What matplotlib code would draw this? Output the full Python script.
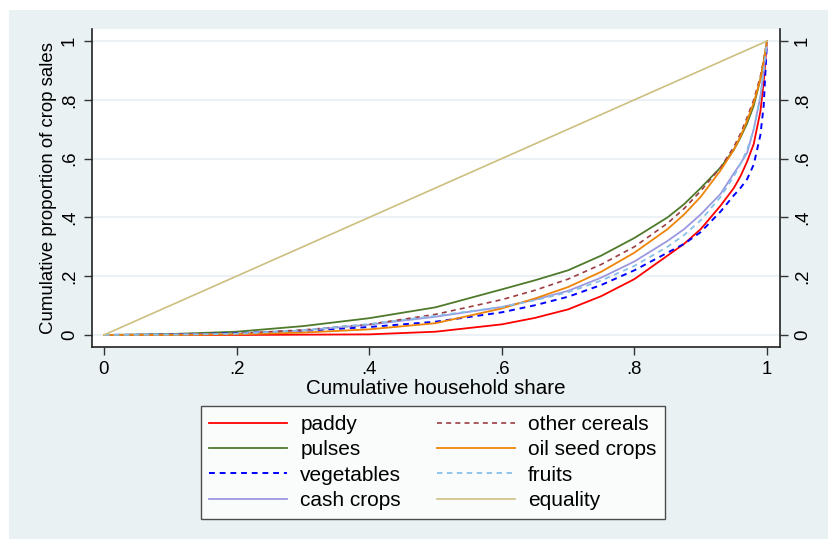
import matplotlib
matplotlib.use("Agg")
import matplotlib.pyplot as plt
from matplotlib.patches import Rectangle

plt.rcParams['font.family'] = ['Liberation Sans', 'DejaVu Sans']

# Lorenz curves of crop sales by crop group
share = [0, .1, .2, .3, .4, .5, .6, .65, .7, .75, .8, .85, .875, .9, .93, .95, .96, .97, .98, .99, .995, 1]

paddy = [0, 0, 0, .001, .002, .011, .036, .058, .087, .132, .19, .27, .31, .36, .44, .50, .54, .59, .65, .76, .86, 1]
pulses = [0, .003, .011, .03, .057, .094, .155, .186, .22, .27, .33, .40, .445, .50, .57, .63, .672, .72, .78, .87, .93, 1]
vegetables = [0, .001, .006, .014, .027, .045, .077, .101, .13, .17, .22, .28, .31, .35, .42, .475, .50, .53, .58, .68, .78, 1]
cash_crops = [0, .001, .004, .015, .035, .062, .095, .12, .15, .195, .25, .32, .36, .41, .48, .55, .583, .62, .70, .81, .90, 1]
other_cereals = [0, .001, .005, .017, .036, .07, .12, .152, .19, .24, .30, .38, .43, .49, .57, .64, .685, .74, .80, .88, .935, 1]
oil_seed = [0, 0, .002, .008, .019, .04, .09, .124, .163, .215, .28, .36, .41, .47, .56, .63, .675, .73, .79, .87, .93, 1]
fruits = [0, .001, .004, .016, .037, .065, .095, .118, .145, .185, .235, .30, .34, .39, .47, .54, .582, .63, .70, .81, .90, 1]
equality = [0, 1]

ticks = [0, .2, .4, .6, .8, 1]
tick_labels = ['0', '.2', '.4', '.6', '.8', '1']

fig = plt.figure(figsize=(8.29, 5.39), dpi=100, facecolor='white')
bg = '#eaf1f3'
fig.patches.append(Rectangle((9 / 829, 0), 1, 1 - 10 / 539, transform=fig.transFigure,
                             facecolor=bg, edgecolor='none', zorder=-10))

ax = fig.add_axes([92 / 829, 192 / 539, 688 / 829, 318 / 539])
ax.set_facecolor('white')

dash = (0, (3, 2.5))
ax.plot(share, paddy, color='#ff0000', lw=1.3, label='paddy')
ax.plot(share, pulses, color='#4f7a2c', lw=1.3, label='pulses')
ax.plot(share, vegetables, color='#0000ff', lw=1.4, ls=dash, label='vegetables')
ax.plot(share, cash_crops, color='#9a98e0', lw=1.3, label='cash crops')
ax.plot(share, other_cereals, color='#9c3d44', lw=1.2, ls=dash, label='other cereals')
ax.plot(share, oil_seed, color='#ee8407', lw=1.3, label='oil seed crops')
ax.plot(share, fruits, color='#88bfe8', lw=1.3, ls=dash, label='fruits')
ax.plot([0, 1], equality, color='#cdbf80', lw=1.2, label='equality')

ax.set_xlim(-0.018, 1.0196)
ax.set_ylim(-0.041, 1.041)
ax.set_xticks(ticks)
ax.set_xticklabels(tick_labels)
ax.set_yticks(ticks)
ax.set_yticklabels(tick_labels)
ax.yaxis.grid(True, color='#e8eff2', lw=1.2)
ax.set_axisbelow(True)
ax.tick_params(axis='both', labelsize=13.4, length=6, width=1, color='#333333', pad=4)
ax.tick_params(axis='y', right=True, labelright=True, labelrotation=90)
for lab in ax.yaxis.get_ticklabels(which='both'):
    lab.set_va('center')
for side in ['left', 'bottom', 'right']:
    ax.spines[side].set_color('#222222')
    ax.spines[side].set_linewidth(1.2)
ax.spines['top'].set_visible(False)

ax.set_xlabel('Cumulative household share', fontsize=14.8, labelpad=1)
ax.set_ylabel('Cumulative proportion of crop sales', fontsize=13.4, labelpad=3)

leg = fig.legend(loc='center', bbox_to_anchor=(0.522, 0.142), ncol=2, fontsize=15,
                 frameon=True, fancybox=False, edgecolor='#222222', handlelength=3.75,
                 columnspacing=1.7, labelspacing=0.3, handletextpad=0.62,
                 borderpad=0.42)
leg.get_frame().set_linewidth(1.0)

fig.savefig('out.png', dpi=100, facecolor='white')
